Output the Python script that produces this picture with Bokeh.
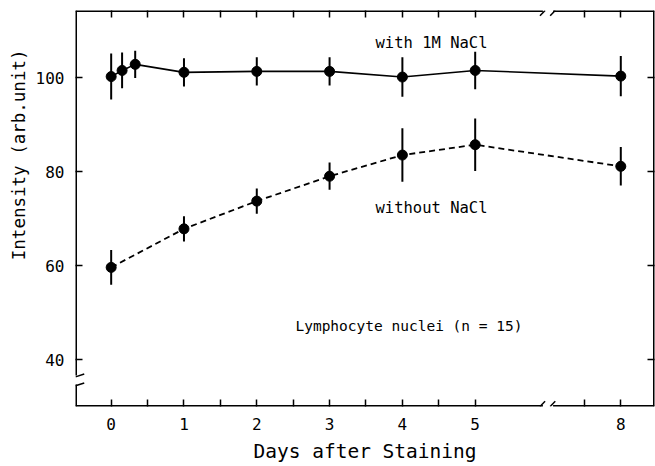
from bokeh.plotting import figure
from bokeh.models import Range1d, LinearAxis, FixedTicker, ColumnDataSource, Title
from bokeh.core.properties import value
from bokeh.embed import file_html
from bokeh.resources import INLINE

# ---- data ----
days_with = [0, 0.15, 0.33, 1, 2, 3, 4, 5, 8]
intensity_with = [100.2, 101.5, 102.8, 101.1, 101.3, 101.3, 100.1, 101.5, 100.3]
err_with = [4.9, 3.8, 2.9, 3.0, 3.0, 3.0, 4.2, 4.0, 4.3]

days_without = [0, 1, 2, 3, 4, 5, 8]
intensity_without = [59.6, 67.8, 73.7, 79.0, 83.5, 85.7, 81.1]
err_without = [3.7, 2.7, 2.7, 2.9, 5.7, 5.6, 4.1]

x_tick_days = [0, 1, 2, 3, 4, 5, 8]
x_minor_days = [0.5, 1.5, 2.5, 3.5, 4.5, 5.5, 7.5]
y_ticks = [40, 60, 80, 100]

label_with = "with 1M NaCl"
label_without = "without NaCl"
label_note = "Lymphocyte nuclei (n = 15)"
x_title = "Days after Staining"
y_title = "Intensity (arb.unit)"

FONT = "DejaVu Sans Mono"
BREAK_AFTER = 5      # x axis broken between 5 and 8
BREAK_GAP = 1        # days removed from the x axis
Y_BREAK = (34.7, 36.6)  # y axis broken below 40


def to_axis(d):
    return d if d <= BREAK_AFTER else d - BREAK_GAP


def src(days, vals, errs):
    xs = [to_axis(d) for d in days]
    return ColumnDataSource(dict(
        x=xs, y=vals,
        lo=[v - e for v, e in zip(vals, errs)],
        hi=[v + e for v, e in zip(vals, errs)],
    ))


s_with = src(days_with, intensity_with, err_with)
s_without = src(days_without, intensity_without, err_without)

X0, X1 = -0.49, 7.463
Y0, Y1 = 30.0, 114.26

p = figure(width=655, height=466, output_backend="svg", toolbar_location=None,
           x_range=Range1d(X0, X1), y_range=Range1d(Y0, Y1),
           min_border_left=75, min_border_right=1, min_border_top=10,
           min_border_bottom=60, x_axis_location=None, y_axis_location=None)
p.grid.visible = False
p.outline_line_color = None
p.background_fill_color = "white"
p.border_fill_color = "white"

xt = FixedTicker(ticks=[to_axis(d) for d in x_tick_days],
                 minor_ticks=[to_axis(d) for d in x_minor_days])
yt = FixedTicker(ticks=y_ticks, minor_ticks=[])


def style(ax, labels=True):
    ax.axis_line_color = None
    ax.major_tick_in = 7
    ax.major_tick_out = 0
    ax.minor_tick_in = 7
    ax.minor_tick_out = 0
    ax.major_tick_line_width = 1.5
    ax.minor_tick_line_width = 1.5
    ax.major_tick_line_color = "black"
    ax.minor_tick_line_color = "black"
    ax.major_label_text_font = FONT
    if labels:
        ax.major_label_text_font_size = "16px"
        ax.major_label_text_color = "black"
        ax.major_label_standoff = 11
    else:
        ax.major_label_text_font_size = "1px"
        ax.major_label_text_color = None
        ax.major_label_standoff = 0


bottom = LinearAxis(ticker=xt)
bottom.major_label_overrides = {to_axis(d): str(d) for d in x_tick_days}
style(bottom)
bottom.major_label_standoff = 11
bottom.axis_label = x_title
bottom.axis_label_text_font = FONT
bottom.axis_label_text_font_size = "19.5px"
bottom.axis_label_text_font_style = "normal"
bottom.axis_label_text_color = "black"
bottom.axis_label_standoff = 7
p.add_layout(bottom, "below")

top = LinearAxis(ticker=xt)
style(top, labels=False)
top.major_label_overrides = {to_axis(d): "" for d in x_tick_days}
p.add_layout(top, "above")

left = LinearAxis(ticker=yt)
style(left)
p.add_layout(left, "left")

right = LinearAxis(ticker=yt)
style(right, labels=False)
right.major_label_overrides = {t: "" for t in y_ticks}
p.add_layout(right, "right")

p.add_layout(Title(text=y_title, align="right", offset=39, standoff=8,
                   text_font=FONT, text_font_size="17.5px",
                   text_font_style="normal", text_color="black"), "left")

# frame edges (drawn with gaps where the axes are broken)
brk = BREAK_AFTER + 0.5 * (to_axis(8) - BREAK_AFTER)
gx = 0.07
edges = ColumnDataSource(dict(
    x0=[X0, brk + gx, X0, brk + gx, X0, X0, X1],
    y0=[Y1, Y1, Y0, Y0, Y0, Y_BREAK[1], Y0],
    x1=[brk - gx, X1, brk - gx, X1, X0, X0, X1],
    y1=[Y1, Y1, Y0, Y0, Y_BREAK[0], Y1, Y1],
))
p.segment("x0", "y0", "x1", "y1", source=edges, line_color="black",
          line_width=3)
# break marks
marks = ColumnDataSource(dict(
    x0=[brk - gx - 0.04, brk + gx - 0.04, brk - gx - 0.04, brk + gx - 0.04,
        X0, X0],
    y0=[Y1 - 1.1, Y1 - 1.1, Y0, Y0, Y_BREAK[0] - 0.3, Y_BREAK[1] - 0.3],
    x1=[brk - gx + 0.03, brk + gx + 0.03, brk - gx + 0.03, brk + gx + 0.03,
        X0 + 0.12, X0 + 0.12],
    y1=[Y1, Y1, Y0 + 1.1, Y0 + 1.1, Y_BREAK[0] + 0.3, Y_BREAK[1] + 0.3],
))
p.segment("x0", "y0", "x1", "y1", source=marks, line_color="black",
          line_width=1.5)

# error bars
for s in (s_with, s_without):
    p.segment(x0="x", y0="lo", x1="x", y1="hi", source=s,
              line_color="black", line_width=2)

p.line("x", "y", source=s_with, line_color="black", line_width=1.6)
p.line("x", "y", source=s_without, line_color="black", line_width=1.8,
       line_dash="6 4")
for s in (s_with, s_without):
    p.scatter("x", "y", source=s, size=10, fill_color="black",
              line_color="black")

# curve labels
txt = ColumnDataSource(dict(
    x=[4.4, 4.4], y=[107.4, 72.3], t=[label_with, label_without]))
p.text("x", "y", text="t", source=txt, text_font=value(FONT),
       text_font_size="15.5px", text_align="center",
       text_baseline="middle", text_color="black")
note = ColumnDataSource(dict(x=[4.09], y=[47.2], t=[label_note]))
p.text("x", "y", text="t", source=note, text_font=value(FONT),
       text_font_size="14.5px", text_align="center",
       text_baseline="middle", text_color="black")

open("out.html", "w").write(file_html(p, INLINE))
